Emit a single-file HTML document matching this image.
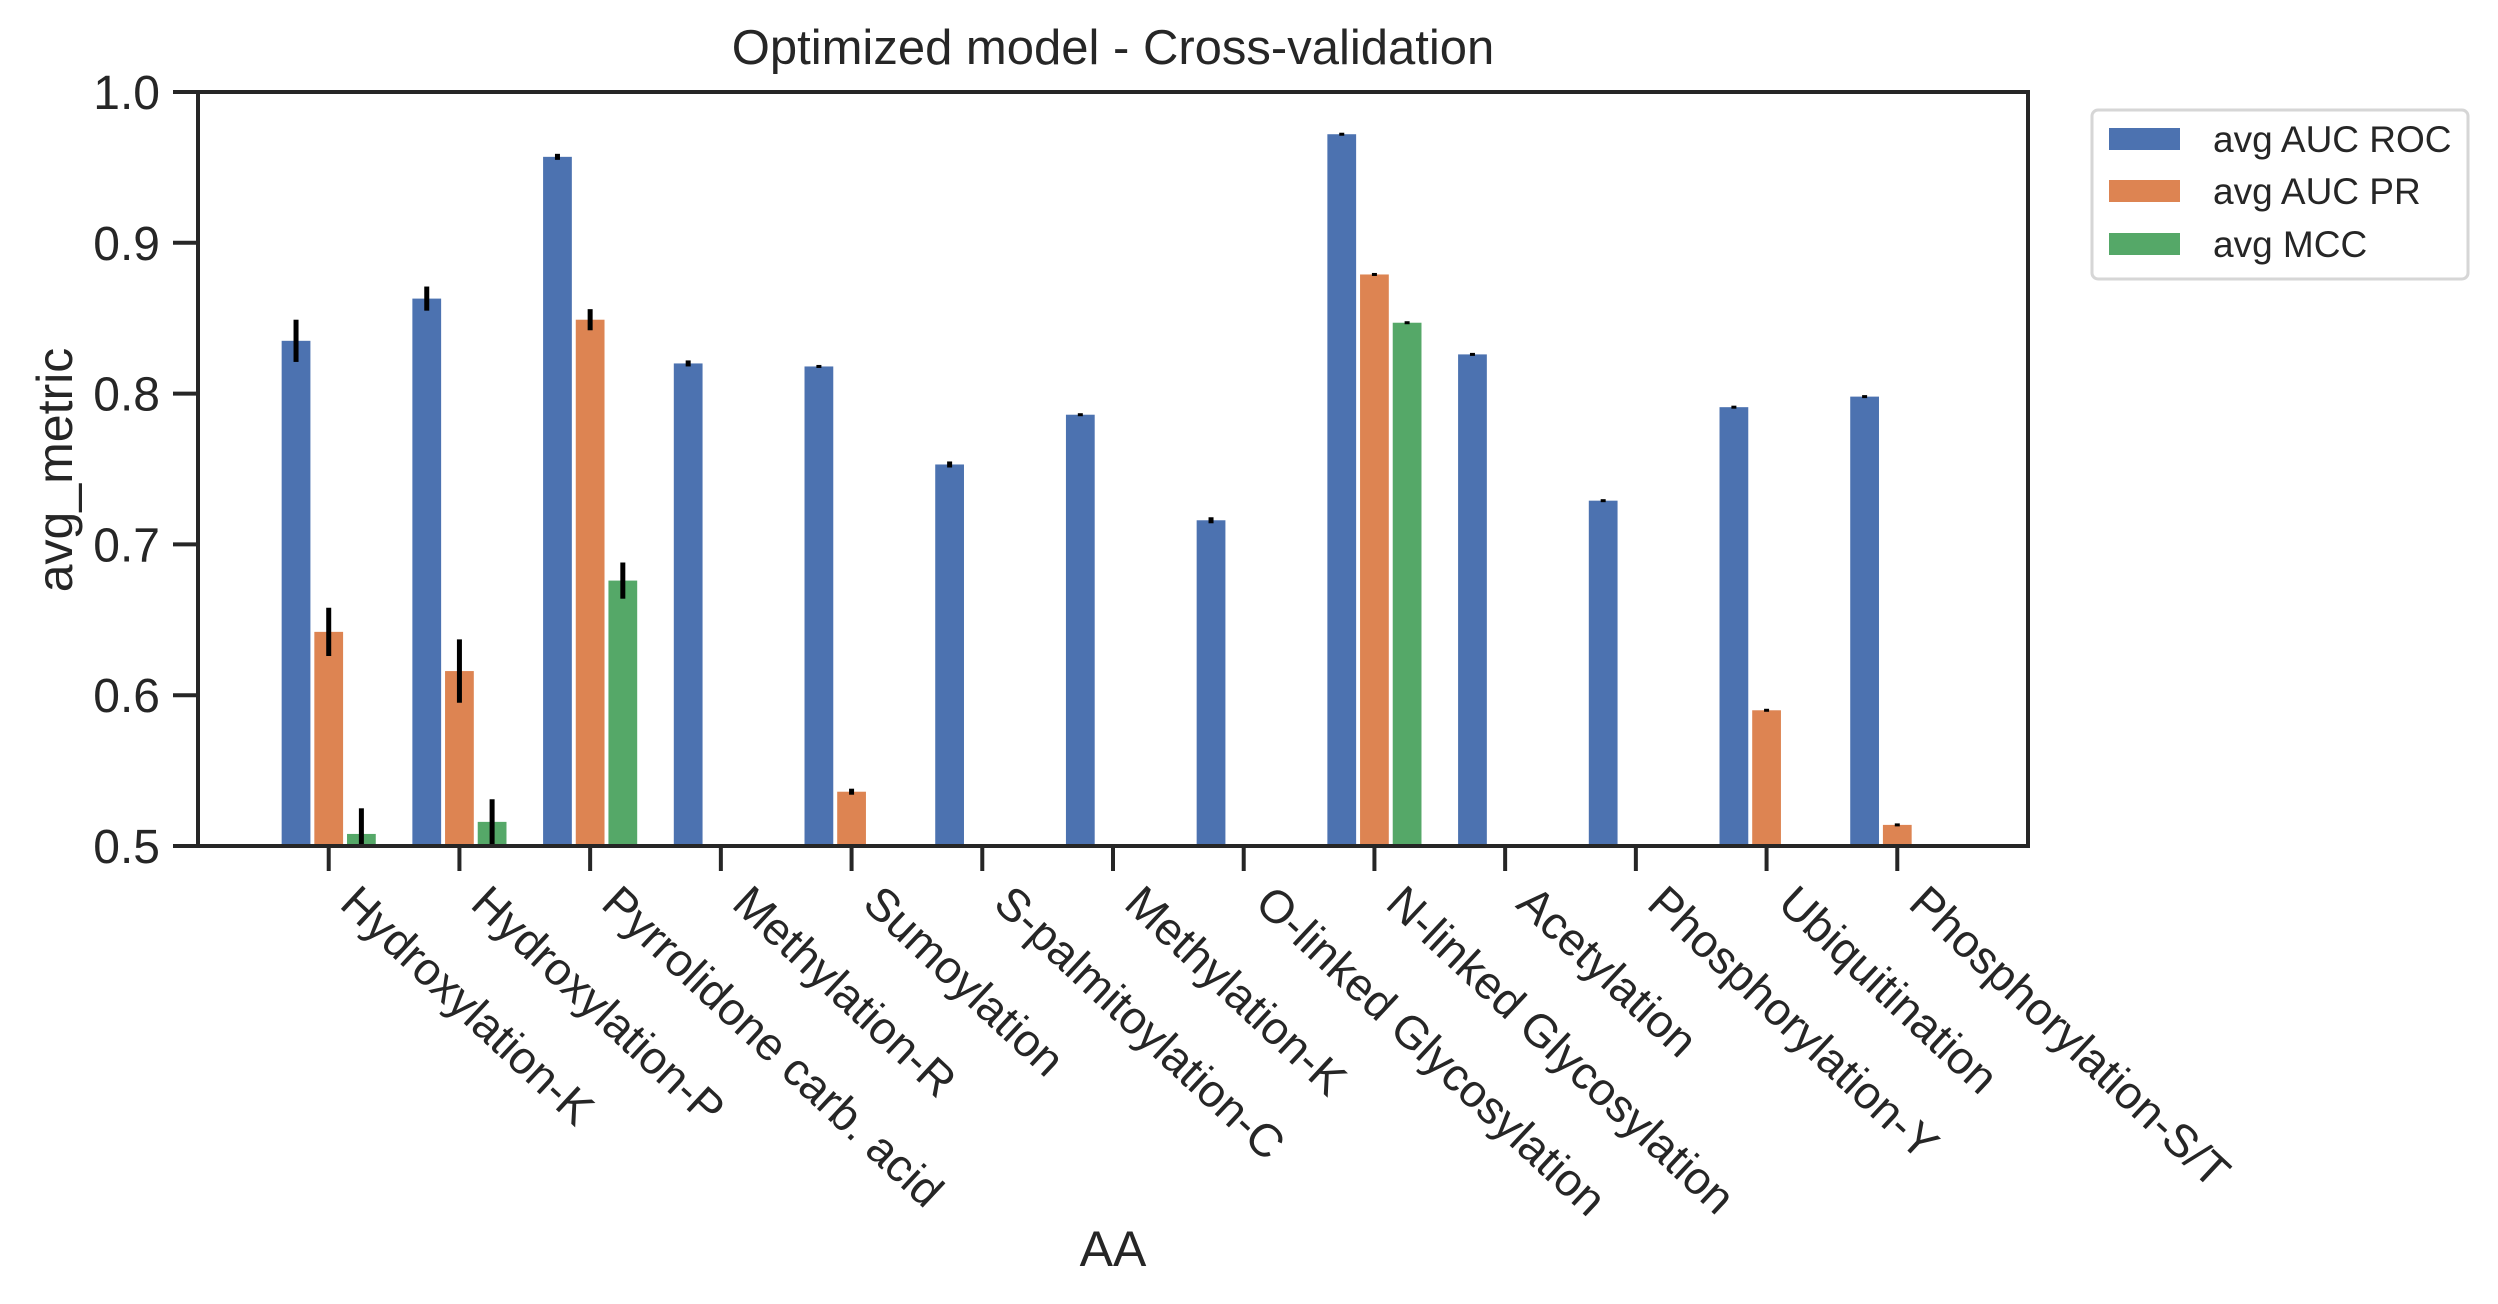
<!DOCTYPE html>
<html><head><meta charset="utf-8"><style>
html,body{margin:0;padding:0;background:#fff;}
svg{display:block;font-family:"Liberation Sans",Arial,sans-serif;}
</style></head><body>
<svg id="chart" width="2498" height="1304" viewBox="0 0 2498 1304" xmlns="http://www.w3.org/2000/svg">
<rect width="2498" height="1304" fill="#fff"/>
<text x="1113" y="64" font-size="49" fill="#262626" text-anchor="middle">Optimized model - Cross-validation</text>
<text transform="translate(72,470) rotate(-90)" font-size="50" fill="#262626" text-anchor="middle">avg_metric</text>
<text x="1113" y="1266" font-size="50" fill="#262626" text-anchor="middle">AA</text>
<g id="bars"></g>
<g id="errs"></g>
<g id="axes"></g>
<g>
<rect x="2092" y="110" width="376" height="169" rx="6" fill="#fff" stroke="#d6d6d6" stroke-width="3"/>
<rect x="2109" y="128" width="71" height="22" fill="#4c72b0"/>
<text x="2213" y="152" font-size="37" fill="#262626">avg AUC ROC</text>
<rect x="2109" y="180" width="71" height="22" fill="#dd8452"/>
<text x="2213" y="204" font-size="37" fill="#262626">avg AUC PR</text>
<rect x="2109" y="233" width="71" height="22" fill="#55a868"/>
<text x="2213" y="257" font-size="37" fill="#262626">avg MCC</text>
</g>
</svg>
<script>
const categories = ["Hydroxylation-K","Hydroxylation-P","Pyrrolidone carb. acid","Methylation-R","Sumoylation","S-palmitoylation-C","Methylation-K","O-linked Glycosylation","N-linked Glycosylation","Acetylation","Phosphorylation-Y","Ubiquitination","Phosphorylation-S/T"];
const aucRoc = [0.835,0.863,0.957,0.820,0.818,0.753,0.786,0.716,0.972,0.826,0.729,0.791,0.798];
const aucRocErr = [0.014,0.008,0.002,0.002,0.001,0.002,0.001,0.002,0.0005,0,0.001,0.0005,0.0005];
const aucPr = [0.642,0.616,0.849,null,0.536,null,null,null,0.879,null,null,0.590,0.514];
const aucPrErr = [0.016,0.021,0.007,0,0.002,0,0,0,0.001,0,0,0.0005,0.0005];
const mcc = [0.508,0.516,0.676,null,null,null,null,null,0.847,null,null,null,null];
const mccErr = [0.017,0.015,0.012,0,0,0,0,0,0.001,0,0,0,0];
const yTicks = [0.5,0.6,0.7,0.8,0.9,1.0];
const yTickLabels = ["0.5","0.6","0.7","0.8","0.9","1.0"];

const NS="http://www.w3.org/2000/svg";
const L=198,R=2028,T=92,B=846,yMin=0.5,yMax=1.0,xMin=-1,xMax=13;
const xs=i=>L+(i-xMin)/(xMax-xMin)*(R-L);
const ys=v=>B-(v-yMin)/(yMax-yMin)*(B-T);
const unit=(R-L)/(xMax-xMin);
function mk(tag,attrs,parent){const e=document.createElementNS(NS,tag);for(const k in attrs)e.setAttribute(k,attrs[k]);parent.appendChild(e);return e;}
const gb=document.getElementById('bars'),ge=document.getElementById('errs'),ga=document.getElementById('axes');
const series=[[aucRoc,aucRocErr,"#4c72b0",-0.25,"roc"],[aucPr,aucPrErr,"#dd8452",0,"pr"],[mcc,mccErr,"#55a868",0.25,"mcc"]];
const bw=0.22*unit;
series.forEach(s=>{
  const [vals,errs,col,off,key]=s;
  vals.forEach((v,i)=>{
    if(v===null||v<=yMin)return;
    const cx=xs(i+off);
    const r=mk('rect',{x:cx-bw/2,y:ys(v),width:bw,height:B-ys(v),fill:col},gb);
    
    
    const e=errs[i]||0;
    const lo=Math.max(v-e,yMin),hi=v+e;
    let y1=ys(hi),y2=ys(lo);
    if(y2-y1<3){const m=(y1+y2)/2;y1=m-1.5;y2=m+1.5;}
    const ln=mk('line',{x1:cx,x2:cx,y1:y1,y2:y2,stroke:"#000","stroke-width":5},ge);
    
    
  });
});
const fr=mk('rect',{x:L,y:T,width:R-L,height:B-T,fill:"none",stroke:"#262626","stroke-width":4},ga);


yTicks.forEach((t,i)=>{
  const y=ys(t);
  const tk=mk('line',{x1:L-25,x2:L,y1:y,y2:y,stroke:"#262626","stroke-width":4},ga);
  
  
  const tx=mk('text',{x:L-38,y:y+17,"font-size":48,fill:"#262626","text-anchor":"end"},ga);
  tx.textContent=yTickLabels[i];
  
  
});
categories.forEach((c,i)=>{
  const x=xs(i);
  const tk=mk('line',{x1:x,x2:x,y1:B,y2:B+25,stroke:"#262626","stroke-width":4},ga);
  
  
  const tx=mk('text',{transform:`translate(${x+32},${B+36}) rotate(43)`,"font-size":46,fill:"#262626",dy:"0.72em"},ga);
  tx.textContent=c;
  
  
});
</script>
</body></html>
